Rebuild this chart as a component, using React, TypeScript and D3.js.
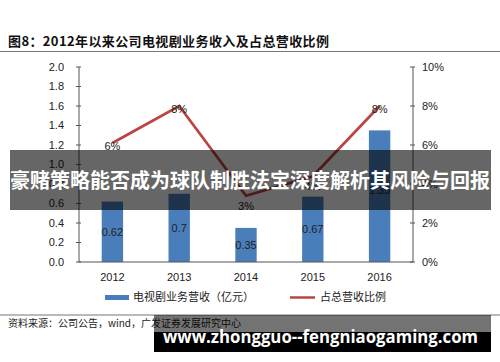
import React from "react";
import * as d3 from "d3";

const years = ["2012", "2013", "2014", "2015", "2016"];
const revenue = [0.62, 0.7, 0.35, 0.67, 1.35];
const ratio = [0.061, 0.08, 0.034, 0.044, 0.08];
const ratioLabels = ["6%", "8%", "3%", "4%", "8%"];
const leftTicks = [0, 0.2, 0.4, 0.6, 0.8, 1.0, 1.2, 1.4, 1.6, 1.8, 2.0];
const rightTicks = [0, 0.02, 0.04, 0.06, 0.08, 0.1];
const title = "图8：2012年以来公司电视剧业务收入及占总营收比例";
const legendBar = "电视剧业务营收（亿元）";
const legendLine = "占总营收比例";
const source = "资料来源：公司公告，wind，广发证券发展研究中心";
const banner = "豪赌策略能否成为球队制胜法宝深度解析其风险与回报";
const watermark = "www.zhongguo--fengniaogaming.com";

const W = 500, H = 362;
const plotL = 79, plotR = 413, plotT = 67, plotB = 262;
const BLUE = "#4a7ebb";
const RED = "#bb4542";
const latin = "'Liberation Sans', Arial, sans-serif";
const cjk = "'Noto Sans CJK SC', sans-serif";

export default function App() {
  const x = d3.scaleBand<string>().domain(years).range([plotL, plotR]).paddingInner(0.68).paddingOuter(0.34);
  const yL = d3.scaleLinear().domain([0, 2]).range([plotB, plotT]);
  const yR = d3.scaleLinear().domain([0, 0.1]).range([plotB, plotT]);
  const cx = (d: string) => (x(d) as number) + x.bandwidth() / 2;
  const line = d3.line<number>().x((_, i) => cx(years[i])).y((v) => yR(v));

  return (
    <svg width={W} height={H} style={{ position: "absolute", left: 0, top: 0, background: "#fff" }}>
      <rect x={0} y={0} width={W} height={H} fill="#fff" />
      <text x={8} y={46} fontFamily={cjk} fontWeight={700} fontSize={13} fill="#111" textLength={321} lengthAdjust="spacing">{title}</text>
      <line x1={0} x2={W} y1={51.5} y2={51.5} stroke="#777" strokeWidth={1.2} />

      {/* left axis */}
      <line x1={plotL} x2={plotL} y1={plotT} y2={plotB} stroke="#555" />
      {leftTicks.map((t) => (
        <g key={"l" + t}>
          <line x1={plotL - 3} x2={plotL + 2} y1={yL(t)} y2={yL(t)} stroke="#555" />
          <text x={64} y={yL(t)} dy="0.35em" textAnchor="end" fontFamily={latin} fontSize={11} fill="#222">{t.toFixed(1)}</text>
        </g>
      ))}
      {/* right axis */}
      <line x1={plotR} x2={plotR} y1={plotT} y2={plotB} stroke="#555" />
      {rightTicks.map((t) => (
        <g key={"r" + t}>
          <line x1={plotR - 3} x2={plotR + 2} y1={yR(t)} y2={yR(t)} stroke="#555" />
          <text x={422} y={yR(t)} dy="0.35em" textAnchor="start" fontFamily={latin} fontSize={11} fill="#222">{Math.round(t * 100) + "%"}</text>
        </g>
      ))}

      {/* bars */}
      {revenue.map((v, i) => (
        <rect key={"b" + i} x={x(years[i])} y={yL(v)} width={x.bandwidth()} height={plotB - yL(v)} fill={BLUE} />
      ))}
      <line x1={plotL} x2={plotR} y1={plotB} y2={plotB} stroke="#555" />
      {years.map((yv) => (
        <text key={"x" + yv} x={cx(yv)} y={281} textAnchor="middle" fontFamily={latin} fontSize={11} fill="#222">{yv}</text>
      ))}
      {revenue.map((v, i) => (
        <text key={"bl" + i} x={cx(years[i])} y={(yL(v) + plotB) / 2 - (v > 1 ? 6 : 0)} dy="0.35em" textAnchor="middle" fontFamily={latin} fontSize={11} fill="#222">{String(v)}</text>
      ))}

      {/* line */}
      <path d={line(ratio) || ""} fill="none" stroke={RED} strokeWidth={2.7} />
      {ratio.map((v, i) => (
        <text key={"rl" + i} x={cx(years[i])} y={yR(v) + (i === 2 || i === 3 ? 10 : 3)} dy="0.35em" textAnchor="middle" fontFamily={latin} fontSize={11} fill="#222">{ratioLabels[i]}</text>
      ))}

      {/* legend */}
      <rect x={105} y={295} width={24} height={5} fill={BLUE} />
      <text x={133} y={297.5} dy="0.35em" fontFamily={cjk} fontSize={11} fill="#222">{legendBar}</text>
      <line x1={290} x2={315} y1={297.5} y2={297.5} stroke={RED} strokeWidth={2.5} />
      <text x={320} y={297.5} dy="0.35em" fontFamily={cjk} fontSize={11} fill="#222">{legendLine}</text>

      <line x1={0} x2={W} y1={315} y2={315} stroke="#777" strokeWidth={1.2} />
      <text x={8} y={323} dy="0.35em" fontFamily={cjk} fontSize={10} fill="#222">{source}</text>

      {/* overlays */}
      <rect x={10} y={150} width={481} height={60} fill="rgba(0,0,0,0.6)" />
      <text x={250} y={181} dy="0.35em" textAnchor="middle" fontFamily={cjk} fontWeight={700} fontSize={20} fill="#fff">{banner}</text>
      <rect x={154} y={315} width={337} height={17} fill="rgba(0,0,0,0.55)" />
      <rect x={154} y={332} width={337} height={20} fill="#000" />
      <text x={163} y={343} fontFamily={"'Open Sans', sans-serif"} fontWeight={700} fontSize={18} fill="#fff" textLength={315} lengthAdjust="spacingAndGlyphs">{watermark}</text>
    </svg>
  );
}
